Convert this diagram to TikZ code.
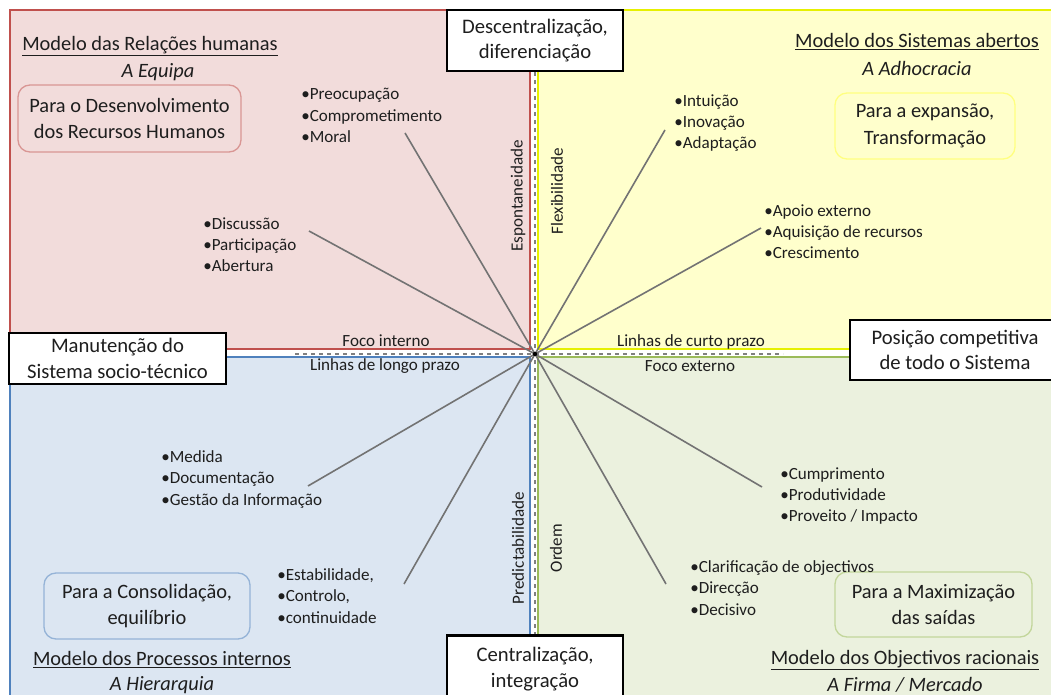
\documentclass[tikz,border=0pt]{standalone}
\usepackage{fontspec}
\setmainfont{Carlito}
\definecolor{redfill}{RGB}{242,220,219}
\definecolor{redline}{RGB}{192,80,77}
\definecolor{redbox}{RGB}{217,150,148}
\definecolor{yelfill}{RGB}{255,255,204}
\definecolor{yelline}{RGB}{230,240,0}
\definecolor{yelbox}{RGB}{255,255,128}
\definecolor{blufill}{RGB}{220,230,242}
\definecolor{bluline}{RGB}{79,129,189}
\definecolor{blubox}{RGB}{149,179,215}
\definecolor{grnfill}{RGB}{235,241,222}
\definecolor{grnline}{RGB}{155,187,89}
\definecolor{grnbox}{RGB}{195,214,155}
\definecolor{raygray}{RGB}{115,115,115}
\definecolor{txt}{RGB}{30,30,30}
\tikzset{
  quad/.style={line width=1.6pt},
  wbox/.style={draw=black, fill=white, line width=2.2pt, inner sep=0pt, align=center, text=txt,
    font=\fontsize{15.5}{19}\selectfont},
  rbox/.style={rounded corners=9pt, line width=1pt, inner sep=0pt, align=center, text=txt,
    font=\fontsize{15.3}{20}\selectfont},
  lst/.style={anchor=north west, inner sep=0pt, align=left, text=txt,
    font=\fontsize{12.8}{16.1}\selectfont},
  ttl/.style={inner sep=0pt, text=txt, font=\fontsize{15.3}{18}\selectfont},
  axl/.style={inner sep=0pt, text=txt, font=\fontsize{12.8}{14}\selectfont},
  ray/.style={draw=raygray, line width=1.2pt},
  dsh/.style={draw=gray, dashed, line width=1.1pt},
}
\begin{document}
\begin{tikzpicture}[x=0.75pt,y=-0.75pt]
\useasboundingbox (0,0) rectangle (1051,695);
\begin{scope}
\clip (0,0) rectangle (1051,695);
\fill[white] (0,0) rectangle (1051,695);
% quadrants
\draw[quad, draw=redline, fill=redfill] (10,10) rectangle (530,349);
\draw[quad, draw=yelline, fill=yelfill] (538,10) rectangle (1070,349);
\draw[quad, draw=bluline, fill=blufill] (10,357) rectangle (530,710);
\draw[quad, draw=grnline, fill=grnfill] (538,357) rectangle (1070,710);

% white boxes (top and bottom)
\node[wbox, minimum width=132pt, minimum height=45.75pt] (desc) at (535,40.5) {Descentralização,\\diferenciação};
\node[wbox, minimum width=132pt, minimum height=50pt] (cent) at (535,669) {Centralização,\\integração};

% center and dashed axes
\coordinate (c) at (535,354);
\coordinate (dl) at (295,354);
\coordinate (dr) at (783,354);
\draw[dsh] (dl) -- (dr);
\draw[dsh] (desc.south) -- (cent.north);

% rays
\coordinate (r1) at (405,133);
\coordinate (r2) at (309,231);
\coordinate (r3) at (665,130);
\coordinate (r4) at (761,228);
\coordinate (r5) at (308,486);
\coordinate (r6) at (404,584);
\coordinate (r7) at (762,487);
\coordinate (r8) at (666,584);
\foreach \r in {r1,r2,r3,r4,r5,r6,r7,r8} \draw[ray] (c) -- (\r);
\fill[black] (c) circle (2.2);

% side boxes
\node[wbox, minimum width=162.75pt, minimum height=38.25pt] (manut) at (117.5,358.5) {Manutenção do\\Sistema socio-técnico};
\node[wbox, minimum width=157.5pt, minimum height=45pt] (posic) at (955,350) {Posição competitiva\\de todo o Sistema};

% rounded boxes
\node[rbox, draw=redbox, fill=redfill, minimum width=167.25pt, minimum height=50.25pt] (pr) at (129.5,118.5) {Para o Desenvolvimento\\dos Recursos Humanos};
\node[rbox, draw=yelbox, fill=yelfill, minimum width=135pt, minimum height=49.5pt] (py) at (925,126) {Para a expansão,\\Transformação};
\node[rbox, draw=blubox, fill=blufill, minimum width=154.5pt, minimum height=49.5pt] (pb) at (147,606) {Para a Consolidação,\\equilíbrio};
\node[rbox, draw=grnbox, fill=grnfill, minimum width=147.75pt, minimum height=48.75pt] (pg) at (933.5,604.5) {Para a Maximização\\das saídas};

% titles
\node[ttl] (t1) at (150,46) {\underline{Modelo das Relações humanas}};
\node[ttl] (s1) at (158,72) {\textit{A Equipa}};
\node[ttl] (t2) at (917,42) {\underline{Modelo dos Sistemas abertos}};
\node[ttl] (s2) at (917,68) {\textit{A Adhocracia}};
\node[ttl] (t3) at (162,660) {\underline{Modelo dos Processos internos}};
\node[ttl] (s3) at (162,685) {\textit{A Hierarquia}};
\node[ttl] (t4) at (905,660) {\underline{Modelo dos Objectivos racionais}};
\node[ttl] (s4) at (905,685) {\textit{A Firma / Mercado}};

% lists
\node[lst] (l1) at (301,88) {•Preocupação\\•Comprometimento\\•Moral};
\node[lst] (l2) at (203,217) {•Discussão\\•Participação\\•Abertura};
\node[lst] (l3) at (674,94) {•Intuição\\•Inovação\\•Adaptação};
\node[lst] (l4) at (764,204) {•Apoio externo\\•Aquisição de recursos\\•Crescimento};
\node[lst] (l5) at (161,450) {•Medida\\•Documentação\\•Gestão da Informação};
\node[lst] (l6) at (277,568) {•Estabilidade,\\•Controlo,\\•continuidade};
\node[lst] (l7) at (780,467) {•Cumprimento\\•Produtividade\\•Proveito / Impacto};
\node[lst] (l8) at (690,560) {•Clarificação de objectivos\\•Direcção\\•Decisivo};

% axis labels
\node[axl] (a1) at (386,341) {Foco interno};
\node[axl] (a2) at (385,366) {Linhas de longo prazo};
\node[axl] (a3) at (691,342) {Linhas de curto prazo};
\node[axl] (a4) at (690,366) {Foco externo};
\node[axl, rotate=90] (a5) at (518,196) {Espontaneidade};
\node[axl, rotate=90] (a6) at (557,191) {Flexibilidade};
\node[axl, rotate=90] (a7) at (518,548) {Predictabilidade};
\node[axl, rotate=90] (a8) at (556,548) {Ordem};
\end{scope}
\end{tikzpicture}
\end{document}
